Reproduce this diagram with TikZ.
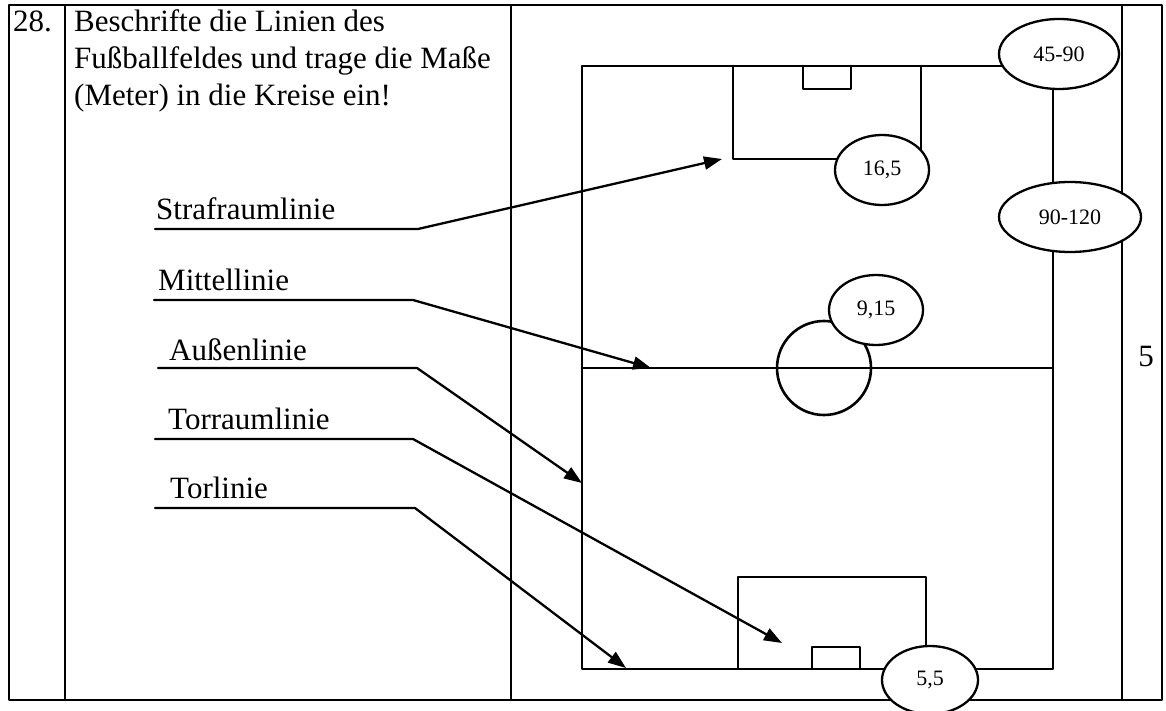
\documentclass[tikz,border=0pt]{standalone}
\usepackage{fontspec}
\setmainfont{Liberation Serif}
\usetikzlibrary{arrows.meta,shapes.geometric}
\begin{document}
\begin{tikzpicture}[x=1pt,y=-1pt,>={Triangle[length=18pt,width=13pt]}, line join=round, line cap=round,
  feld/.style={line width=2.6pt},
  tab/.style={line width=1.8pt},
  pfeil/.style={line width=2.3pt,->},
  mass/.style={ellipse,draw,line width=2.3pt,fill=white,inner sep=0pt,font=\fontsize{22}{26}\selectfont},
  lbl/.style={anchor=base west,inner sep=0pt,font=\fontsize{31}{37}\selectfont}]
 \useasboundingbox (0,0) rectangle (1166,711);
 % Tabelle
 \draw[tab] (9,5) rectangle (1162,700);
 \draw[tab] (65,5)--(65,700) (511,5)--(511,700) (1122,5)--(1122,700);
 \node[lbl] (nr) at (13,32) {28.};
 \node[lbl] (auf1) at (74,32) {Beschrifte die Linien des};
 \node[lbl] (auf2) at (74,69) {Fußballfeldes und trage die Maße};
 \node[lbl] (auf3) at (74,106) {(Meter) in die Kreise ein!};
 \node[lbl,anchor=base] (pkt) at (1146,366) {5};
 % Spielfeld
 \draw[feld] (582,66) rectangle (1053,669);
 \draw[feld] (582,368)--(1053,368);
 \draw[feld] (824,368) circle[radius=47pt];
 \draw[feld] (733,66)--(733,159)--(921,159)--(921,66);
 \draw[feld] (803,66)--(803,89)--(851,89)--(851,66);
 \draw[feld] (738,669)--(738,577)--(926,577)--(926,669);
 \draw[feld] (812,669)--(812,647)--(860,647)--(860,669);
 % Beschriftungen
 \coordinate (straf-l) at (155,229); \coordinate (straf-r) at (418,229); \coordinate (straf-z) at (722,159);
 \coordinate (mitte-l) at (154,300); \coordinate (mitte-r) at (413,300); \coordinate (mitte-z) at (651,368);
 \coordinate (aussen-l) at (158,368); \coordinate (aussen-r) at (417,368); \coordinate (aussen-z) at (582,483);
 \coordinate (torraum-l) at (155,439); \coordinate (torraum-r) at (413,439); \coordinate (torraum-z) at (782,643);
 \coordinate (tor-l) at (155,508); \coordinate (tor-r) at (415,508); \coordinate (tor-z) at (626,668);
 \node[lbl] (straf) at (156,220) {Strafraumlinie};
 \node[lbl] (mitte) at (158,290) {Mittellinie};
 \node[lbl] (aussen) at (169,360) {Außenlinie};
 \node[lbl] (torraum) at (168,429) {Torraumlinie};
 \node[lbl] (tor) at (170,498) {Torlinie};
 \draw[pfeil] (straf-l)--(straf-r)--(straf-z);
 \draw[pfeil] (mitte-l)--(mitte-r)--(mitte-z);
 \draw[pfeil] (aussen-l)--(aussen-r)--(aussen-z);
 \draw[pfeil] (torraum-l)--(torraum-r)--(torraum-z);
 \draw[pfeil] (tor-l)--(tor-r)--(tor-z);
 % Kreise fuer die Masse
 \node[mass,minimum width=120pt,minimum height=70pt] (m4590) at (1059,54) {45-90};
 \node[mass,minimum width=94pt,minimum height=70pt] (m165) at (882,170) {16,5};
 \node[mass,minimum width=142pt,minimum height=70pt] (m90120) at (1070,217) {90-120};
 \node[mass,minimum width=94pt,minimum height=70pt] (m915) at (876,310) {9,15};
 \node[mass,minimum width=96pt,minimum height=68pt] (m55) at (930,680) {5,5};
\end{tikzpicture}
\end{document}
